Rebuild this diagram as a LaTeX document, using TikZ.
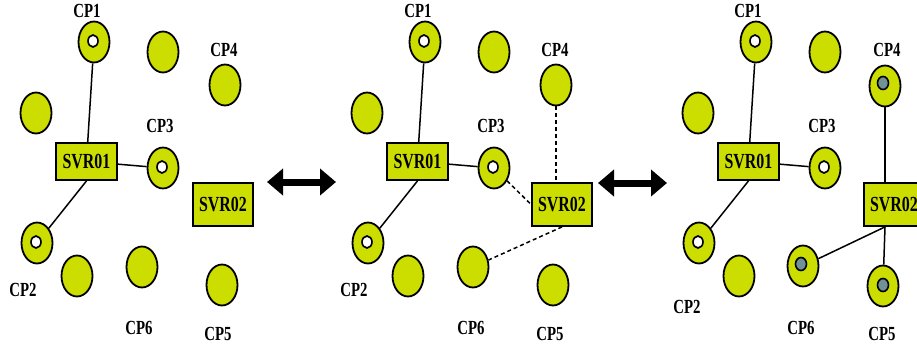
\documentclass[tikz,border=0pt]{standalone}
\usepackage{fontspec}
\newfontfamily\cpfont[FakeStretch=0.74]{Liberation Serif}
\usetikzlibrary{arrows.meta,shapes.geometric}
\definecolor{cpgreen}{RGB}{204,221,0}
\definecolor{cpgray}{RGB}{112,146,150}

\begin{document}
\begin{tikzpicture}[x=1pt,y=-1pt,
	cp/.style={ellipse,draw,line width=1.8pt,fill=cpgreen,minimum width=31pt,minimum height=41pt,inner sep=0pt},
	hole/.style={ellipse,draw,line width=1.6pt,fill=white,minimum width=10pt,minimum height=12pt,inner sep=0pt},
	ghole/.style={hole,fill=cpgray,minimum width=11pt,minimum height=13pt},
	svr/.style={rectangle,draw,line width=1.8pt,fill=cpgreen,minimum width=61pt,minimum height=37pt,inner sep=0pt,font=\cpfont\bfseries\fontsize{21.5}{21.5}\selectfont},
	svrb/.style={svr,minimum width=60pt,minimum height=43pt},
	lbl/.style={font=\cpfont\bfseries\fontsize{20}{20}\selectfont,inner sep=0pt},
	link/.style={line width=1.5pt},
	maybe/.style={link,dash pattern=on 4pt off 3pt},
	dblarrow/.style={line width=7pt,{Triangle[width=26pt,length=16pt]}-{Triangle[width=26pt,length=16pt]}}
]
\clip (0,0) rectangle (917,348);

% left: only SVR01 serves
\node[cp] (CP1a) at (94,42) {};
\node[cp] (Ua1) at (163,52) {};
\node[cp] (CP4a) at (225,85) {};
\node[cp] (Ua2) at (36,113) {};
\node[cp] (CP3a) at (163,168) {};
\node[cp] (CP2a) at (37,243) {};
\node[cp] (Ua3) at (77,276) {};
\node[cp] (CP6a) at (142,267) {};
\node[cp] (CP5a) at (222,285) {};
\node[hole] (H1a) at (93,41) {};
\node[hole] (H3a) at (162,167) {};
\node[hole] (H2a) at (36,242) {};
\node[svr] (S1a) at (86.5,161.5) {SVR01};
\node[svrb] (S2a) at (223,204.5) {SVR02};

\node[lbl] (L1a) at (87,10.5) {CP1};
\node[lbl] (L4a) at (224,50) {CP4};
\node[lbl] (L3a) at (160,126) {CP3};
\node[lbl] (L2a) at (23,290) {CP2};
\node[lbl] (L6a) at (139,328) {CP6};
\node[lbl] (L5a) at (218,333.5) {CP5};

\draw[link] (S1a) -- (CP1a);
\draw[link] (S1a) -- (CP3a);
\draw[link] (S1a.south) -- (CP2a);

\coordinate (A1l) at (267,182);
\coordinate (A1r) at (336,182);
\draw[dblarrow] (A1l) -- (A1r);

% middle: SVR02 reaches out
\begin{scope}[xshift=331pt]
\node[cp] (CP1b) at (94,42) {};
\node[cp] (Ub1) at (163,52) {};
\node[cp] (CP4b) at (225,85) {};
\node[cp] (Ub2) at (36,113) {};
\node[cp] (CP3b) at (163,168) {};
\node[cp] (CP2b) at (37,243) {};
\node[cp] (Ub3) at (77,276) {};
\node[cp] (CP6b) at (142,267) {};
\node[cp] (CP5b) at (222,285) {};
\node[hole] (H1b) at (93,41) {};
\node[hole] (H3b) at (162,167) {};
\node[hole] (H2b) at (36,242) {};
\node[svr] (S1b) at (86.5,161.5) {SVR01};
\node[svrb] (S2b) at (231,204.5) {SVR02};

\node[lbl] (L1b) at (87,10.5) {CP1};
\node[lbl] (L4b) at (224,50) {CP4};
\node[lbl] (L3b) at (160,126) {CP3};
\node[lbl] (L2b) at (23,290) {CP2};
\node[lbl] (L6b) at (140,328) {CP6};
\node[lbl] (L5b) at (219,333.5) {CP5};

\draw[link] (S1b) -- (CP1b);
\draw[link] (S1b) -- (CP3b);
\draw[link] (S1b.south) -- (CP2b);
\draw[maybe] (CP4b) -- (CP4b |- S2b.north);
\draw[maybe] (CP3b) -- (S2b.west);
\draw[maybe] (S2b.south) -- (CP6b);
\end{scope}

\coordinate (A2l) at (598,183);
\coordinate (A2r) at (667,183);
\draw[dblarrow] (A2l) -- (A2r);

% right: SVR02 serves CP4, CP5, CP6
\begin{scope}[xshift=662pt]
\node[cp] (CP1c) at (94,42) {};
\node[cp] (Uc1) at (163,52) {};
\node[cp] (CP4c) at (223,86) {};
\node[cp] (Uc2) at (36,113) {};
\node[cp] (CP3c) at (163,168) {};
\node[cp] (CP2c) at (37,243) {};
\node[cp] (Uc3) at (77,276) {};
\node[cp] (CP6c) at (141,266) {};
\node[cp] (CP5c) at (221,286) {};
\node[hole] (H1c) at (93,41) {};
\node[hole] (H3c) at (162,167) {};
\node[hole] (H2c) at (36,242) {};
\node[ghole] (H4c) at (221,83) {};
\node[ghole] (H6c) at (139,264) {};
\node[ghole] (H5c) at (221,285) {};
\node[svr] (S1c) at (86.5,161.5) {SVR01};
\node[svrb] (S2c) at (232,204.5) {SVR02};

\node[lbl] (L1c) at (86,10.5) {CP1};
\node[lbl] (L4c) at (225,50) {CP4};
\node[lbl] (L3c) at (160,126) {CP3};
\node[lbl] (L2c) at (25,307) {CP2};
\node[lbl] (L6c) at (139,328) {CP6};
\node[lbl] (L5c) at (220,333.5) {CP5};

\coordinate (Jc) at (CP4c |- S2c.south);
\draw[link] (S1c) -- (CP1c);
\draw[link] (S1c) -- (CP3c);
\draw[link] (S1c.south) -- (CP2c);
\draw[link] (CP4c) -- (CP4c |- S2c.north);
\draw[link] (Jc) -- (CP5c);
\draw[link] (Jc) -- (CP6c);
\end{scope}

\end{tikzpicture}
\end{document}
